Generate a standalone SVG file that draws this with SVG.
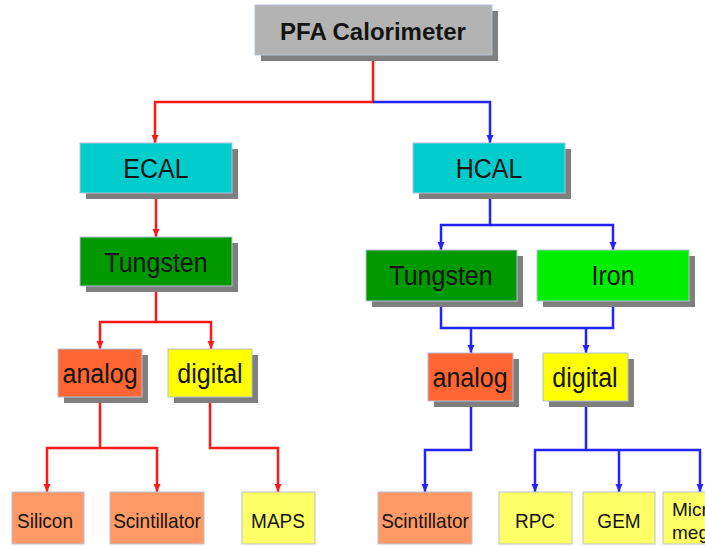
<svg xmlns="http://www.w3.org/2000/svg" width="705" height="546" viewBox="0 0 705 546">
<style>
text{font-family:"Liberation Sans",Arial,sans-serif;fill:#141414;text-anchor:middle}
.t{font-size:24px;font-weight:bold}
.m{font-size:25px}
.s{font-size:19px}
.sh{fill:#7f7f7f}
.b{stroke:#b4c0d8;stroke-width:1}
.r{fill:none;stroke:#ff1a1a;stroke-width:2.5}
.u{fill:none;stroke:#2323ff;stroke-width:2.5}
</style>
<defs>
<marker id="ar" markerUnits="userSpaceOnUse" markerWidth="8" markerHeight="8" refX="8" refY="4" orient="auto"><path d="M0,0.5 L8,4 L0,7.5 z" fill="#ff1a1a"/></marker>
<marker id="ab" markerUnits="userSpaceOnUse" markerWidth="8" markerHeight="8" refX="8" refY="4" orient="auto"><path d="M0,0.5 L8,4 L0,7.5 z" fill="#2323ff"/></marker>
</defs>
<rect width="705" height="546" fill="#fff"/>
<g id="connectors">
<path class="r" d="M373,55 V102 H155 V143" marker-end="url(#ar)"/>
<path class="r" d="M156,193 V237" marker-end="url(#ar)"/>
<path class="r" d="M156,286 V322 H100 V349" marker-end="url(#ar)"/>
<path class="r" d="M156,322 H211 V349" marker-end="url(#ar)"/>
<path class="r" d="M100,397 V448 H47 V492" marker-end="url(#ar)"/>
<path class="r" d="M100,448 H157 V492" marker-end="url(#ar)"/>
<path class="r" d="M210,397 V448 H278 V492" marker-end="url(#ar)"/>
<path class="u" d="M373,102 H490 V143" marker-end="url(#ab)"/>
<path class="u" d="M490,193 V225 H441 V250" marker-end="url(#ab)"/>
<path class="u" d="M490,225 H613 V250" marker-end="url(#ab)"/>
<path class="u" d="M441,301 V328 H613 V301"/>
<path class="u" d="M471,328 V353" marker-end="url(#ab)"/>
<path class="u" d="M586,328 V353" marker-end="url(#ab)"/>
<path class="u" d="M471,401 V450 H425 V492" marker-end="url(#ab)"/>
<path class="u" d="M586,401 V450 H535 V492" marker-end="url(#ab)"/>
<path class="u" d="M586,450 H700 V492" marker-end="url(#ab)"/>
<path class="u" d="M619,450 V492" marker-end="url(#ab)"/>
</g>
<g id="pfa"><rect class="sh" x="261" y="11" width="237" height="50"/><rect class="b" x="255" y="5" width="237" height="50" fill="#b3b3b3"/><text class="t" x="373" y="40">PFA Calorimeter</text></g>
<g id="ecal"><rect class="sh" x="86" y="149" width="152" height="50"/><rect class="b" x="80" y="143" width="152" height="50" fill="#00cccc"/><text class="m" transform="translate(156 178) scale(1 1.12)">ECAL</text></g>
<g id="ecal-tungsten"><rect class="sh" x="86" y="243" width="152" height="49"/><rect class="b" x="80" y="237" width="152" height="49" fill="#009900"/><text class="m" transform="translate(156 272) scale(1 1.12)">Tungsten</text></g>
<g id="ecal-analog"><rect class="sh" x="64" y="355" width="84" height="48"/><rect class="b" x="58" y="349" width="84" height="48" fill="#ff6633"/><text class="m" transform="translate(100 383) scale(1 1.12)">analog</text></g>
<g id="ecal-digital"><rect class="sh" x="174" y="355" width="84" height="48"/><rect class="b" x="168" y="349" width="84" height="48" fill="#ffff00"/><text class="m" transform="translate(210 383) scale(1 1.12)">digital</text></g>
<g id="silicon"><rect class="b" x="12" y="492" width="72" height="52" fill="#ff9966"/><text class="s" transform="translate(45 528) scale(1 1.1)">Silicon</text></g>
<g id="ecal-scint"><rect class="b" x="110" y="492" width="94" height="52" fill="#ff9966"/><text class="s" transform="translate(157 528) scale(1 1.1)">Scintillator</text></g>
<g id="maps"><rect class="b" x="242" y="492" width="73" height="52" fill="#ffff66"/><text class="s" transform="translate(278 528) scale(1 1.1)">MAPS</text></g>
<g id="hcal"><rect class="sh" x="419" y="149" width="152" height="50"/><rect class="b" x="413" y="143" width="152" height="50" fill="#00cccc"/><text class="m" transform="translate(489 178) scale(1 1.12)">HCAL</text></g>
<g id="hcal-tungsten"><rect class="sh" x="372" y="256" width="151" height="51"/><rect class="b" x="366" y="250" width="151" height="51" fill="#009900"/><text class="m" transform="translate(441 285) scale(1 1.12)">Tungsten</text></g>
<g id="iron"><rect class="sh" x="543" y="256" width="152" height="51"/><rect class="b" x="537" y="250" width="152" height="51" fill="#00ee00"/><text class="m" transform="translate(613 285) scale(1 1.12)">Iron</text></g>
<g id="hcal-analog"><rect class="sh" x="434" y="359" width="85" height="48"/><rect class="b" x="428" y="353" width="85" height="48" fill="#ff6633"/><text class="m" transform="translate(470 387) scale(1 1.12)">analog</text></g>
<g id="hcal-digital"><rect class="sh" x="549" y="359" width="85" height="48"/><rect class="b" x="543" y="353" width="85" height="48" fill="#ffff00"/><text class="m" transform="translate(585 387) scale(1 1.12)">digital</text></g>
<g id="hcal-scint"><rect class="b" x="378" y="492" width="94" height="52" fill="#ff9966"/><text class="s" transform="translate(425 528) scale(1 1.1)">Scintillator</text></g>
<g id="rpc"><rect class="b" x="499" y="492" width="73" height="52" fill="#ffff66"/><text class="s" transform="translate(535 528) scale(1 1.1)">RPC</text></g>
<g id="gem"><rect class="b" x="583" y="492" width="72" height="52" fill="#ffff66"/><text class="s" transform="translate(619 528) scale(1 1.1)">GEM</text></g>
<g id="micromegas"><rect class="b" x="663" y="492" width="74" height="52" fill="#ffff66"/><text class="s" x="672" y="516" style="text-anchor:start">Micro</text><text class="s" x="672" y="539" style="text-anchor:start">megas</text></g>
</svg>
